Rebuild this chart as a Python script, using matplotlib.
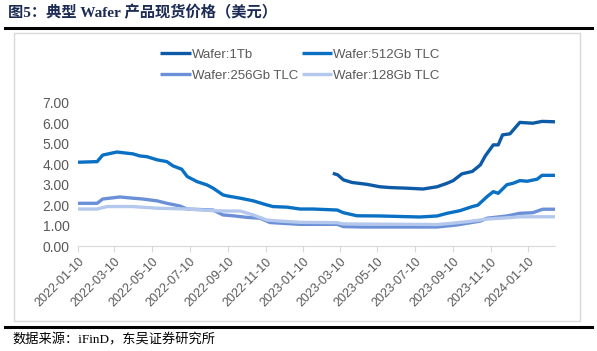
import matplotlib
matplotlib.use("Agg")
import matplotlib.pyplot as plt
import pandas as pd
from matplotlib.lines import Line2D
from matplotlib.patches import Rectangle

plt.rcParams['font.family'] = ['Liberation Sans', 'Noto Sans CJK SC', 'DejaVu Sans']

# values (USD)
tb1_dates = ["2023-02-27", "2023-03-07", "2023-03-16", "2023-03-30", "2023-04-23",
             "2023-05-14", "2023-05-31", "2023-06-27", "2023-07-23", "2023-08-15",
             "2023-08-31", "2023-09-10", "2023-09-24", "2023-10-11", "2023-10-24",
             "2023-11-01", "2023-11-14", "2023-11-22", "2023-11-29", "2023-12-11",
             "2023-12-27", "2024-01-17", "2024-02-01", "2024-02-22"]
tb1_vals = [3.56, 3.48, 3.24, 3.11, 3.02, 2.90, 2.86, 2.83, 2.79, 2.90,
            3.07, 3.20, 3.53, 3.65, 3.97, 4.41, 4.95, 4.95, 5.44, 5.49,
            6.05, 6.01, 6.10, 6.08]

gb512_dates = ["2022-01-10", "2022-02-10", "2022-02-19", "2022-03-14", "2022-04-09",
               "2022-04-20", "2022-05-02", "2022-05-18", "2022-06-03", "2022-06-13",
               "2022-06-27", "2022-07-06", "2022-07-22", "2022-08-07", "2022-08-17",
               "2022-09-02", "2022-09-09", "2022-09-30", "2022-10-21", "2022-11-12",
               "2022-11-22", "2022-12-15", "2023-01-05", "2023-01-26", "2023-03-06",
               "2023-03-16", "2023-04-07", "2023-05-14", "2023-07-18", "2023-08-15",
               "2023-08-31", "2023-09-21", "2023-10-11", "2023-10-20", "2023-11-04",
               "2023-11-14", "2023-11-22", "2023-12-06", "2023-12-16", "2023-12-27",
               "2024-01-08", "2024-01-24", "2024-02-01", "2024-02-22"]
gb512_vals = [4.10, 4.13, 4.45, 4.60, 4.51, 4.41, 4.37, 4.22, 4.13, 3.92,
              3.76, 3.40, 3.15, 2.99, 2.83, 2.50, 2.45, 2.34, 2.21, 2.01,
              1.93, 1.90, 1.81, 1.81, 1.76, 1.63, 1.48, 1.47, 1.42, 1.47,
              1.60, 1.73, 1.93, 2.00, 2.42, 2.66, 2.58, 3.00, 3.07, 3.20,
              3.17, 3.27, 3.46, 3.46]

gb256_dates = ["2022-01-10", "2022-02-10", "2022-02-19", "2022-03-19", "2022-04-09",
               "2022-04-25", "2022-05-18", "2022-06-03", "2022-06-24", "2022-07-06",
               "2022-08-17", "2022-09-02", "2022-09-18", "2022-10-11", "2022-11-01",
               "2022-11-17", "2022-12-03", "2023-01-05", "2023-03-06", "2023-03-16",
               "2023-04-17", "2023-08-15", "2023-09-16", "2023-10-24", "2023-11-04",
               "2023-12-06", "2023-12-27", "2024-01-17", "2024-02-02", "2024-02-22"]
gb256_vals = [2.09, 2.09, 2.30, 2.40, 2.34, 2.30, 2.21, 2.09, 1.96, 1.81,
              1.76, 1.52, 1.48, 1.40, 1.36, 1.15, 1.12, 1.06, 1.06, 0.95,
              0.93, 0.93, 1.03, 1.22, 1.36, 1.47, 1.60, 1.63, 1.80, 1.80]

gb128_dates = ["2022-01-10", "2022-02-10", "2022-02-26", "2022-04-09", "2022-05-18",
               "2022-07-06", "2022-08-17", "2022-09-09", "2022-09-30", "2022-10-21",
               "2022-11-12", "2022-12-03", "2023-01-05", "2023-03-06", "2023-03-16",
               "2023-08-15", "2023-09-10", "2023-10-02", "2023-10-24", "2023-11-04",
               "2023-12-16", "2023-12-27", "2024-02-22"]
gb128_vals = [1.81, 1.81, 1.93, 1.93, 1.85, 1.81, 1.73, 1.71, 1.71, 1.52,
              1.27, 1.22, 1.16, 1.14, 1.08, 1.05, 1.12, 1.19, 1.27, 1.32,
              1.40, 1.43, 1.43]

tick_dates = ["2022-01-10", "2022-03-10", "2022-05-10", "2022-07-10", "2022-09-10",
              "2022-11-10", "2023-01-10", "2023-03-10", "2023-05-10", "2023-07-10",
              "2023-09-10", "2023-11-10", "2024-01-10"]

series = [
    ("Wafer:1Tb", tb1_dates, tb1_vals, "#0D5BA6"),
    ("Wafer:512Gb TLC", gb512_dates, gb512_vals, "#0A70C4"),
    ("Wafer:256Gb TLC", gb256_dates, gb256_vals, "#6B90D8"),
    ("Wafer:128Gb TLC", gb128_dates, gb128_vals, "#B3C8EC"),
]

fig = plt.figure(figsize=(5.97, 3.51), dpi=100)

# outer frame + header/footer rules
fig.patches.append(Rectangle((14 / 597, 1 - 321 / 351), (580 - 14) / 597, (321 - 33) / 351,
                             transform=fig.transFigure, fill=False,
                             edgecolor="#D9D9D9", linewidth=1.0))
fig.add_artist(Line2D([5 / 597, 592 / 597], [1 - 28 / 351] * 2, color="black", linewidth=2.2))
fig.add_artist(Line2D([5 / 597, 592 / 597], [1 - 327 / 351] * 2, color="black", linewidth=2.2))

fig.text(8 / 597, 1 - 13 / 351, "图5：典型 Wafer 产品现货价格（美元）",
         family=['Liberation Serif', 'Noto Sans CJK SC'], fontweight="bold",
         fontsize=11, color="#1C2B55", va="center", ha="left")
fig.text(12 / 597, 1 - 340 / 351, "数据来源：iFinD，东吴证券研究所",
         family=['Liberation Serif', 'Noto Sans CJK SC'],
         fontsize=9.5, color="black", va="center", ha="left")

ax = fig.add_axes([78 / 597, 1 - 246 / 351, (555 - 78) / 597, (246 - 103) / 351])

lines = {}
for name, d, v, c in series:
    lines[name], = ax.plot(pd.to_datetime(d), v, color=c, linewidth=2.4, label=name,
                           solid_joinstyle="round", solid_capstyle="butt")

ax.set_ylim(0, 7)
ax.set_yticks(range(0, 8))
ax.yaxis.set_major_formatter(matplotlib.ticker.FormatStrFormatter("%.2f"))
ax.set_xlim(pd.Timestamp("2022-01-10"), pd.Timestamp("2024-02-22"))
ax.set_xticks(pd.to_datetime(tick_dates))
ax.set_xticklabels(tick_dates, rotation=45, ha="right", rotation_mode="anchor")

for s in ["top", "right", "left"]:
    ax.spines[s].set_visible(False)
ax.spines["bottom"].set_color("#D9D9D9")
ax.tick_params(axis="y", length=0, labelsize=10, colors="#595959", pad=6)
ax.tick_params(axis="x", length=4, color="#D9D9D9", labelsize=9,
               labelcolor="#595959", pad=3)
ax.set_facecolor("none")

# legend fills column-wise, so order to get 1Tb/512 on top row
order = ["Wafer:1Tb", "Wafer:256Gb TLC", "Wafer:512Gb TLC", "Wafer:128Gb TLC"]
leg = fig.legend([lines[n] for n in order], order, loc="center",
                 bbox_to_anchor=(300 / 597, 1 - 65 / 351), ncol=2,
                 frameon=False, fontsize=9.5, handlelength=2.3, handletextpad=0.1,
                 columnspacing=0.25, labelspacing=0.65, labelcolor="#595959")

fig.savefig("out.png", dpi=100)
